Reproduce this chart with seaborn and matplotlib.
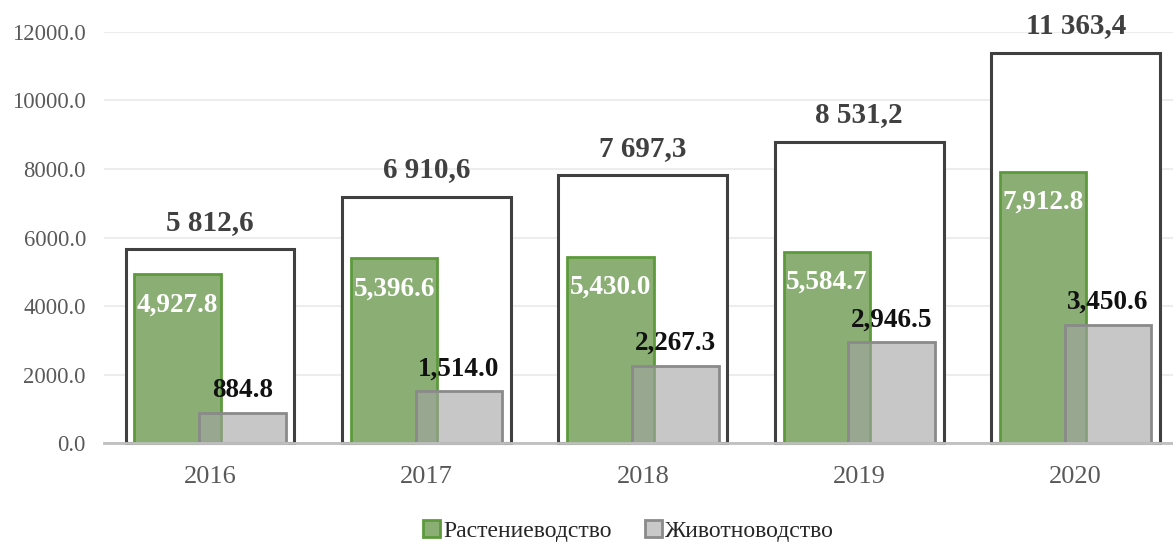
import pandas as pd
import seaborn as sns
import matplotlib.pyplot as plt
from matplotlib.patches import Patch

# data
years = ['2016', '2017', '2018', '2019', '2020']
crop = [4927.8, 5396.6, 5430.0, 5584.7, 7912.8]          # Растениеводство
livestock = [884.8, 1514.0, 2267.3, 2946.5, 3450.6]      # Животноводство
totals = [5812.6, 6910.6, 7697.3, 8531.2, 11363.4]       # labels above the frames
frame_heights = [5660, 7190, 7820, 8790, 11385]          # outline boxes as drawn

df = pd.DataFrame({'year': years, 'crop': crop, 'livestock': livestock,
                   'total': totals, 'frame': frame_heights})

sns.set_style('white')
plt.rcParams['font.family'] = ['Liberation Serif', 'DejaVu Serif']

fig = plt.figure(figsize=(11.73, 5.42), dpi=100)
ax = fig.add_axes([0.0887, 0.1821, 0.9113, 0.7594])

green, green_edge = '#8aae74', '#5c9a3c'
grey, grey_edge = '#c8c8c8', '#8a8a8a'
grey_see_through = (0.64, 0.64, 0.64, 0.6)   # looks like #c8c8c8 on white


def draw(col, width, shift, **kw):
    n0 = len(ax.patches)
    sns.barplot(data=df, x='year', y=col, order=years, ax=ax, width=width, **kw)
    bars = ax.patches[n0:]
    for b in bars:
        b.set_x(b.get_x() + shift)
        b.set_clip_on(False)
    return bars


frames = draw('frame', 0.78, 0.0, color='white', edgecolor='#404040', linewidth=2.2, saturation=1)
gbars = draw('crop', 0.40, -0.15, color=green, edgecolor=green_edge, linewidth=2, saturation=1)
lbars = draw('livestock', 0.40, 0.15, color=grey, edgecolor=grey_edge, linewidth=2, saturation=1)
for b in lbars:
    b.set_alpha(None)
    b.set_facecolor(grey_see_through)
    b.set_edgecolor(grey_edge)

for b, v in zip(frames, totals):
    txt = f'{v:,.1f}'.replace(',', ' ').replace('.', ',')
    ax.annotate(txt, (b.get_x() + b.get_width() / 2, b.get_height()), xytext=(0, 14),
                textcoords='offset points', ha='center', va='baseline',
                fontsize=21, fontweight='bold', color='#404040')
for b, v in zip(gbars, crop):
    ax.annotate(f'{v:,.1f}', (b.get_x() + b.get_width() / 2, b.get_height()), xytext=(0, -22),
                textcoords='offset points', ha='center', va='center',
                fontsize=19.5, fontweight='bold', color='white')
for b, v in zip(lbars, livestock):
    ax.annotate(f'{v:,.1f}', (b.get_x() + b.get_width() / 2, b.get_height()), xytext=(0, 11.5),
                textcoords='offset points', ha='center', va='baseline',
                fontsize=19.5, fontweight='bold', color='#111111')

ax.set_ylim(0, 12000)
ax.set_xlim(-0.49, 4.45)
ax.set_yticks(range(0, 12001, 2000))
ax.set_yticklabels([f'{t:.1f}' for t in range(0, 12001, 2000)])
ax.yaxis.grid(True, color='#ededed', linewidth=1.5)
ax.set_axisbelow(True)
ax.set_xlabel('')
ax.set_ylabel('')
for s in ['top', 'right', 'left']:
    ax.spines[s].set_visible(False)
ax.spines['bottom'].set_color('#bfbfbf')
ax.spines['bottom'].set_linewidth(2)
ax.tick_params(axis='y', length=0, pad=13, labelsize=16.3, labelcolor='#595959')
ax.tick_params(axis='x', length=0, pad=16, labelsize=19, labelcolor='#595959')

handles = [Patch(facecolor=green, edgecolor=green_edge, linewidth=2, label='Растениеводство'),
           Patch(facecolor=grey, edgecolor=grey_edge, linewidth=2, label='Животноводство')]
fig.legend(handles=handles, loc='center', bbox_to_anchor=(0.536, 0.02), ncol=2, frameon=False,
           fontsize=17, handlelength=0.7, handleheight=0.7, handletextpad=0.15,
           columnspacing=1.4)

fig.savefig('out.png', dpi=100)
